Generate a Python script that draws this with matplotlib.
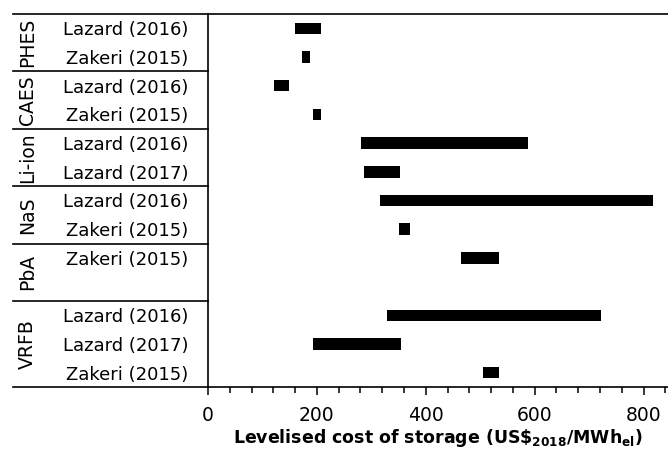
import matplotlib
matplotlib.use("Agg")
import matplotlib.pyplot as plt
from matplotlib.ticker import MultipleLocator

plt.rcParams['font.family'] = ['DejaVu Sans']
plt.rcParams['mathtext.fontset'] = 'dejavusans'

# storage technologies and the studies listed under each (None = empty slot)
groups = ["PHES", "CAES", "Li-ion", "NaS", "PbA", "VRFB"]
studies = [
    ["Lazard (2016)", "Zakeri (2015)"],
    ["Lazard (2016)", "Zakeri (2015)"],
    ["Lazard (2016)", "Lazard (2017)"],
    ["Lazard (2016)", "Zakeri (2015)"],
    ["Zakeri (2015)", None],
    ["Lazard (2016)", "Lazard (2017)", "Zakeri (2015)"],
]
# LCOS ranges in US$2018/MWh_el, low and high end per study
lcos_low = [
    [160, 172],
    [122, 192],
    [281, 287],
    [316, 351],
    [465],
    [329, 193, 506],
]
lcos_high = [
    [207, 187],
    [148, 207],
    [587, 353],
    [818, 371],
    [535],
    [722, 354, 535],
]

fig = plt.figure(figsize=(6.68, 4.5), dpi=100)
ax = fig.add_axes([0.3114, 0.14, 0.6886, 0.8289])

ylabels = []
ypos = []
bounds = [-0.5]
row = 0
for g, names in enumerate(groups):
    for k, s in enumerate(studies[g]):
        if s is not None:
            lo = lcos_low[g][k]
            hi = lcos_high[g][k]
            ax.barh(row, hi - lo, left=lo, height=0.4, color="black")
            ylabels.append(s)
            ypos.append(row)
        row += 1
    bounds.append(row - 0.5)

nrows = row
ax.set_ylim(nrows - 0.5, -0.5)
ax.set_xlim(0, 845)

ax.set_yticks(ypos)
ax.set_yticklabels(ylabels, fontsize=13)
ax.tick_params(axis="y", length=0, pad=14)

ax.xaxis.set_major_locator(MultipleLocator(200))
ax.xaxis.set_minor_locator(MultipleLocator(40))
ax.tick_params(axis="x", which="major", length=6, width=1.1, labelsize=13.5, pad=8)
ax.tick_params(axis="x", which="minor", length=4, width=1.1)

ax.spines["right"].set_visible(False)
for side in ["left", "top", "bottom"]:
    ax.spines[side].set_linewidth(1.2)

# separator lines that run out into the label column
trans = ax.get_yaxis_transform()
for b in bounds:
    ax.plot([-0.424, 0], [b, b], color="black", lw=1.2, transform=trans, clip_on=False)

# group names, rotated, centred on each block of rows
for g, name in enumerate(groups):
    mid = (bounds[g] + bounds[g + 1]) / 2
    ax.text(-0.393, mid, name, rotation=90, ha="center", va="center",
            fontsize=13.5, transform=trans)

ax.set_xlabel(r"Levelised cost of storage (US\$$_{\mathbf{2018}}$/MWh$_{\mathbf{el}}$)",
              fontsize=12.5, fontweight="bold", labelpad=1)

fig.savefig("out.png", dpi=100)
